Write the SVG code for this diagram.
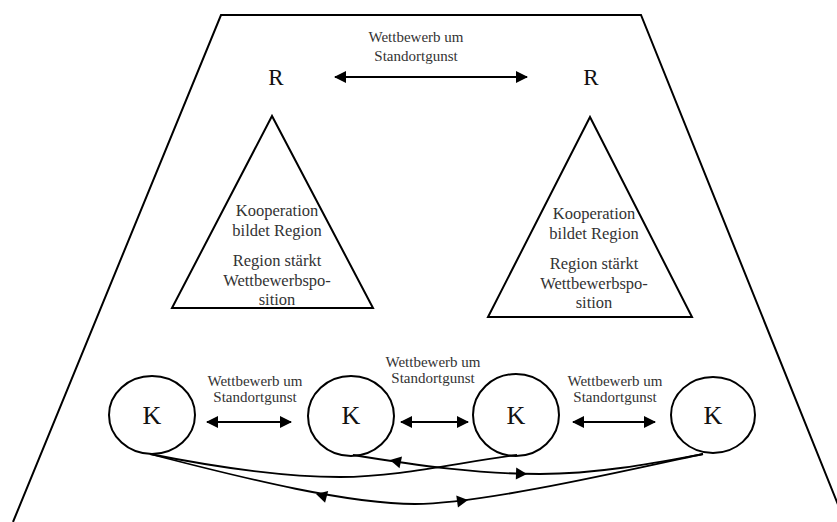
<svg xmlns="http://www.w3.org/2000/svg" xmlns:xlink="http://www.w3.org/1999/xlink" width="837" height="522" viewBox="0 0 837 522">
<style>
.ln{fill:none;stroke:#000;stroke-width:2}
.cv{fill:none;stroke:#000;stroke-width:1.8}
.big{font-family:"Liberation Serif","Times New Roman",serif;fill:#111;text-anchor:middle}
.lbl{font-family:"Liberation Serif","Times New Roman",serif;font-size:15px;fill:#333;text-anchor:middle}
.tri{font-family:"Liberation Serif","Times New Roman",serif;font-size:16.5px;fill:#333;text-anchor:middle}
</style>
<defs>
<marker id="ah" viewBox="0 0 12 12" refX="11" refY="6" markerWidth="12" markerHeight="12" markerUnits="userSpaceOnUse" orient="auto-start-reverse">
<path d="M0,0 L12,6 L0,12 Z" fill="#000"/>
</marker>
<path id="mh" d="M0,0 L-11,-6 L-11,6 Z" fill="#000"/>
</defs>
<rect width="837" height="522" fill="#fff"/>
<g id="frame">
<polyline class="ln" points="13,522 221,15 641,15 845,522"/>
</g>
<g id="R1"><text class="big" x="276" y="85" font-size="23">R</text></g>
<g id="R2"><text class="big" x="591" y="85" font-size="23">R</text></g>
<g id="tri1">
<polygon class="ln" points="272,116 172,308 373,308"/>
<text class="tri" x="277" y="216">Kooperation</text>
<text class="tri" x="277" y="235.5">bildet Region</text>
<text class="tri" x="277" y="266">Region stärkt</text>
<text class="tri" x="277" y="285.5">Wettbewerbspo-</text>
<text class="tri" x="277" y="305">sition</text>
</g>
<g id="tri2">
<polygon class="ln" points="590,117 488,317 692,317"/>
<text class="tri" x="594" y="219">Kooperation</text>
<text class="tri" x="594" y="238.5">bildet Region</text>
<text class="tri" x="594" y="269">Region stärkt</text>
<text class="tri" x="594" y="288.5">Wettbewerbspo-</text>
<text class="tri" x="594" y="308">sition</text>
</g>
<g id="K1"><ellipse class="ln" cx="152" cy="415" rx="43" ry="39"/><text class="big" x="152" y="424" font-size="26">K</text></g>
<g id="K2"><ellipse class="ln" cx="351" cy="416" rx="43" ry="40"/><text class="big" x="351" y="424" font-size="26">K</text></g>
<g id="K3"><ellipse class="ln" cx="516" cy="415" rx="43" ry="41"/><text class="big" x="516" y="424" font-size="26">K</text></g>
<g id="K4"><ellipse class="ln" cx="713" cy="415" rx="42" ry="38"/><text class="big" x="713" y="424" font-size="26">K</text></g>
<g id="labels">
<text class="lbl" x="416" y="42">Wettbewerb um</text>
<text class="lbl" x="416" y="61">Standortgunst</text>
<text class="lbl" x="255" y="386">Wettbewerb um</text>
<text class="lbl" x="255" y="402">Standortgunst</text>
<text class="lbl" x="433" y="367">Wettbewerb um</text>
<text class="lbl" x="433" y="383">Standortgunst</text>
<text class="lbl" x="615" y="386">Wettbewerb um</text>
<text class="lbl" x="615" y="402">Standortgunst</text>
</g>
<g id="connectors">
<line class="ln" x1="335" y1="77" x2="527" y2="77" marker-start="url(#ah)" marker-end="url(#ah)"/>
<line class="ln" x1="207" y1="422" x2="291" y2="422" marker-start="url(#ah)" marker-end="url(#ah)"/>
<line class="ln" x1="401" y1="422" x2="468" y2="422" marker-start="url(#ah)" marker-end="url(#ah)"/>
<line class="ln" x1="573" y1="422" x2="655" y2="422" marker-start="url(#ah)" marker-end="url(#ah)"/>
<path class="cv" d="M150,454 C230,470 290,477 340,477 C400,477 460,462 517,455"/>
<path class="cv" d="M353,455 C420,466 480,474 540,474 C600,474 660,462 703,454"/>
<path class="cv" d="M150,454 C250,480 350,504 415,504 C480,504 620,472 703,454"/>
<use xlink:href="#mh" transform="translate(390,460) rotate(192)"/>
<use xlink:href="#mh" transform="translate(527,474) rotate(2)"/>
<use xlink:href="#mh" transform="translate(316,494) rotate(195)"/>
<use xlink:href="#mh" transform="translate(468,500) rotate(-8)"/>
</g>
</svg>
